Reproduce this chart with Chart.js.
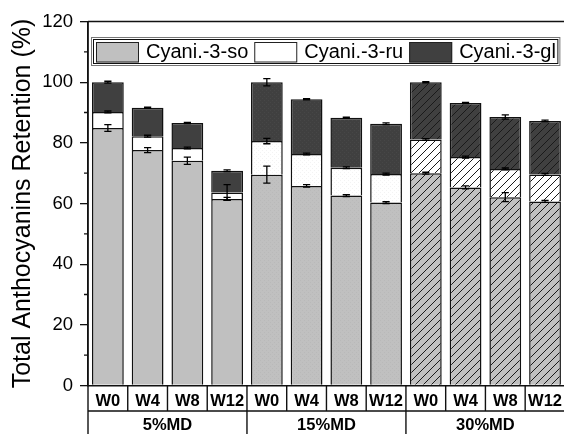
<!DOCTYPE html>
<html>
<head>
<meta charset="utf-8">
<script src="https://cdn.jsdelivr.net/npm/chart.js@4.4.1/dist/chart.umd.min.js"></script>
<style>
  html, body { margin: 0; padding: 0; overflow: hidden; background: #fff; }
  #wrap { width: 568px; height: 434px; }
</style>
</head>
<body>
<div id="wrap"><canvas id="c" width="568" height="434"></canvas></div>
<script>
// Storage weeks for each maltodextrin level
const weeks = ['W0', 'W4', 'W8', 'W12', 'W0', 'W4', 'W8', 'W12', 'W0', 'W4', 'W8', 'W12'];
const groups = ['5%MD', '15%MD', '30%MD'];
const seriesNames = ['Cyani.-3-so', 'Cyani.-3-ru', 'Cyani.-3-gl'];

// Retention contributed by each anthocyanin (%), stacked
const soValues = [84.9, 77.6, 74.1, 61.5, 69.5, 65.8, 62.6, 60.3, 70.0, 65.3, 62.1, 60.7];
const ruValues = [5.3, 4.6, 4.2, 2.1, 11.1, 10.5, 9.2, 9.4, 11.1, 10.0, 9.3, 8.9];
const glValues = [9.8, 9.4, 8.2, 7.2, 19.4, 18.1, 16.5, 16.6, 18.9, 17.8, 17.1, 17.6];

// Standard deviations at the top of each stacked segment
const soErrors = [1.1, 0.8, 1.2, 0.5, 2.8, 0.4, 0.3, 0.3, 0.3, 0.5, 1.5, 0.3];
const ruErrors = [0.3, 0.3, 0.3, 2.6, 0.9, 0.3, 0.3, 0.3, 0.3, 0.3, 0.3, 0.3];
const glErrors = [0.3, 0.2, 0.2, 0.3, 1.2, 0.2, 0.2, 0.3, 0.2, 0.2, 0.7, 0.3];

const yTicks = [0, 20, 40, 60, 80, 100, 120];

const seriesColors = ['#c0c0c0', '#ffffff', '#404040'];
const dotColors = ['#b9b9b9', '#f3f3f3', '#474747'];
const FONT = '"Liberation Sans", Arial, Helvetica, sans-serif';
Chart.defaults.font.family = FONT;

const canvas = document.getElementById('c');
const ctx = canvas.getContext('2d');

function dottedFill(base, dot) {
  const t = document.createElement('canvas');
  t.width = t.height = 4;
  const g = t.getContext('2d');
  g.fillStyle = base; g.fillRect(0, 0, 4, 4);
  g.fillStyle = dot; g.fillRect(0, 0, 1, 1); g.fillRect(2, 2, 1, 1);
  return ctx.createPattern(t, 'repeat');
}
function hatchedFill(base) {
  const t = document.createElement('canvas');
  t.width = t.height = 8;
  const g = t.getContext('2d');
  g.fillStyle = base; g.fillRect(0, 0, 8, 8);
  g.strokeStyle = '#1a1a1a'; g.lineWidth = 1;
  g.beginPath();
  g.moveTo(0, 8); g.lineTo(8, 0);
  g.moveTo(-1, 1); g.lineTo(1, -1);
  g.moveTo(7, 9); g.lineTo(9, 7);
  g.stroke();
  return ctx.createPattern(t, 'repeat');
}

const perGroup = weeks.length / groups.length;
function fills(si) {
  const dots = dottedFill(seriesColors[si], dotColors[si]);
  const hatch = hatchedFill(seriesColors[si]);
  return weeks.map((_, j) => {
    const gi = Math.floor(j / perGroup);
    return gi === 0 ? seriesColors[si] : gi === 1 ? dots : hatch;
  });
}

const seriesValues = [soValues, ruValues, glValues];
const errorSets = [soErrors, ruErrors, glErrors];

const decor = {
  id: 'decor',
  afterDatasetsDraw(chart) {
    const c = chart.ctx;
    const y = chart.scales.y;
    const cum = weeks.map(() => 0);
    c.save();
    c.strokeStyle = '#000';
    c.lineWidth = 1.3;
    chart.data.datasets.forEach((d, i) => {
      const meta = chart.getDatasetMeta(i);
      d.data.forEach((v, j) => {
        cum[j] += v;
        const e = errorSets[i][j];
        const cx = meta.data[j].x;
        const y1 = y.getPixelForValue(cum[j] + e);
        const y2 = y.getPixelForValue(cum[j] - e);
        c.beginPath();
        c.moveTo(cx, y1); c.lineTo(cx, y2);
        c.moveTo(cx - 3.6, y1); c.lineTo(cx + 3.6, y1);
        c.moveTo(cx - 3.6, y2); c.lineTo(cx + 3.6, y2);
        c.stroke();
      });
    });
    c.restore();
  },
  afterDraw(chart) {
    const c = chart.ctx;
    const area = chart.chartArea;
    const xa = chart.scales.x, xg = chart.scales.x2, y = chart.scales.y;
    c.save();
    c.strokeStyle = '#111';
    c.lineWidth = 1.4;
    c.beginPath();
    // frame top
    c.moveTo(area.left, area.top); c.lineTo(area.right, area.top);
    // left edge through the label table
    c.moveTo(area.left, area.top); c.lineTo(area.left, xg.bottom);
    // row separator
    c.moveTo(area.left, xa.bottom); c.lineTo(area.right, xa.bottom);
    for (let j = 1; j < weeks.length; j++) {
      const bx = (xa.getPixelForValue(j - 1) + xa.getPixelForValue(j)) / 2;
      c.moveTo(bx, xa.top);
      c.lineTo(bx, j % perGroup === 0 ? xg.bottom : xa.bottom);
    }
    c.stroke();

    // minor ticks halfway between labelled ticks
    c.strokeStyle = '#111';
    c.lineWidth = 1.3;
    c.beginPath();
    for (let k = 1; k < yTicks.length; k++) {
      const py = y.getPixelForValue((yTicks[k - 1] + yTicks[k]) / 2);
      c.moveTo(area.left - 4, py); c.lineTo(area.left, py);
    }
    c.stroke();

    // legend
    c.font = '20px ' + FONT;
    c.textBaseline = 'middle';
    c.textAlign = 'left';
    const top = 42, h = 20.5, sw = 43, midY = 52.7;
    let lx = 96;
    seriesNames.forEach((name, i) => {
      c.fillStyle = seriesColors[i];
      c.fillRect(lx, top, sw, h);
      c.strokeStyle = '#222'; c.lineWidth = 1;
      c.strokeRect(lx + 0.5, top + 0.5, sw - 1, h - 1);
      c.fillStyle = '#000';
      c.fillText(name, lx + sw + 7, midY);
      lx += sw + 7 + c.measureText(name).width + 6;
    });
    const right = lx - 2;
    c.strokeStyle = '#777'; c.lineWidth = 1;
    c.strokeRect(91.5, 37.5, right - 91.5, 28);
    c.strokeStyle = '#111';
    c.strokeRect(93.5, 39.5, right - 95.5, 24);
    c.restore();
  }
};

new Chart(ctx, {
  type: 'bar',
  data: {
    labels: weeks,
    datasets: seriesNames.map((name, i) => ({
      label: name,
      data: seriesValues[i],
      backgroundColor: fills(i),
      borderColor: '#111',
      borderWidth: 1.5,
      borderSkipped: 'start'
    }))
  },
  options: {
    responsive: false,
    animation: false,
    layout: { padding: { top: 21.5, left: 0, right: 0, bottom: 0 } },
    plugins: { legend: { display: false }, tooltip: { enabled: false } },
    datasets: { bar: { categoryPercentage: 1, barPercentage: 0.8 } },
    scales: {
      x: {
        stacked: true,
        offset: true,
        weight: 0,
        z: 1,
        grid: { display: false, drawTicks: false },
        border: { display: true, color: '#111', width: 1.5 },
        ticks: { font: { size: 16.5, weight: 'bold' }, color: '#000', padding: 6, maxRotation: 0, autoSkip: false },
        afterFit(s) { s.height = 25.5; }
      },
      x2: {
        type: 'category',
        labels: groups,
        position: 'bottom',
        offset: true,
        weight: 1,
        grid: { display: false, drawTicks: false },
        border: { display: false },
        ticks: { font: { size: 16.5, weight: 'bold' }, color: '#000', padding: 5, maxRotation: 0, autoSkip: false },
        afterFit(s) { s.height = 23; }
      },
      y: {
        stacked: true,
        min: 0,
        max: 120,
        afterBuildTicks(s) { s.ticks = yTicks.map(v => ({ value: v })); },
        ticks: { font: { size: 18.5 }, color: '#000', padding: 7 },
        grid: { drawOnChartArea: false, drawTicks: true, tickLength: 8, color: '#111', lineWidth: 1.3 },
        border: { display: true, color: '#111', width: 1.5 },
        title: {
          display: true,
          text: 'Total Anthocyanins Retention (%)',
          font: { size: 25 },
          color: '#000',
          padding: { top: 8, bottom: 0 }
        },
        afterFit(s) { s.width = 88; }
      }
    }
  },
  plugins: [decor]
});
</script>
</body>
</html>
